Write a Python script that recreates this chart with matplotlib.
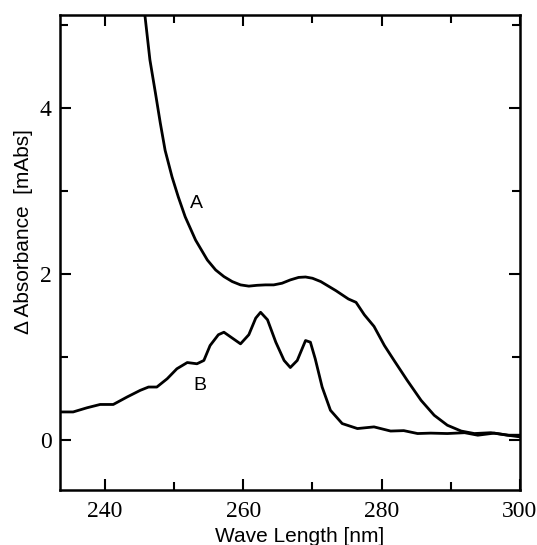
import numpy as np
import matplotlib.pyplot as plt
from matplotlib.ticker import MultipleLocator

# curve A
wl_a = [245.5, 245.8, 246.5, 247.3, 248.0, 248.7, 249.7, 250.6, 251.6, 253.1, 254.8,
        256.0, 257.2, 258.4, 259.6, 260.8, 262.0, 263.2, 264.4, 265.6, 266.8, 268.0,
        269.0, 270.0, 271.2, 272.4, 273.4, 274.3, 275.2, 276.3, 277.5, 278.9, 280.4,
        281.8, 283.7, 285.7, 287.6, 289.5, 291.5, 293.4, 295.8, 298.2, 300.0]
abs_a = [5.20, 5.10, 4.58, 4.18, 3.82, 3.49, 3.17, 2.93, 2.69, 2.41, 2.17,
         2.05, 1.97, 1.91, 1.87, 1.855, 1.865, 1.87, 1.87, 1.89, 1.93, 1.96,
         1.965, 1.95, 1.91, 1.85, 1.80, 1.75, 1.70, 1.66, 1.51, 1.37, 1.14,
         0.96, 0.72, 0.48, 0.30, 0.18, 0.11, 0.08, 0.09, 0.06, 0.04]

# curve B
wl_b = [233.5, 235.4, 237.4, 239.3, 241.2, 243.2, 245.1, 246.3, 247.5, 249.0, 250.4,
        251.9, 253.3, 254.3, 255.2, 256.4, 257.2, 258.4, 259.6, 260.8, 261.8, 262.5,
        263.5, 264.7, 265.9, 266.8, 267.8, 269.0, 269.7, 270.4, 271.4, 272.6, 274.3,
        276.5, 278.9, 281.3, 283.2, 285.2, 287.1, 289.5, 292.0, 293.9, 296.3, 298.3,
        300.0]
abs_b = [0.34, 0.34, 0.39, 0.43, 0.43, 0.52, 0.60, 0.64, 0.64, 0.74, 0.86,
         0.935, 0.92, 0.96, 1.14, 1.27, 1.30, 1.23, 1.16, 1.27, 1.47, 1.54,
         1.45, 1.18, 0.96, 0.875, 0.96, 1.20, 1.18, 0.98, 0.64, 0.36, 0.20,
         0.14, 0.16, 0.11, 0.115, 0.08, 0.085, 0.08, 0.09, 0.06, 0.085, 0.06,
         0.06]

labels = {"A": (253.3, 2.85), "B": (253.7, 0.66)}

fig = plt.figure(figsize=(5.37, 5.45), dpi=100)
ax = fig.add_axes([0.1117, 0.1009, 0.8566, 0.8716])

ax.plot(wl_a, abs_a, color='black', lw=2.0, solid_joinstyle='round')
ax.plot(wl_b, abs_b, color='black', lw=2.0, solid_joinstyle='round')

for name, (x, y) in labels.items():
    ax.text(x, y, name, fontsize=14, family='Liberation Sans', ha='center', va='center')

ax.set_xlim(233.5, 300)
ax.set_ylim(-0.6, 5.12)
ax.xaxis.set_major_locator(MultipleLocator(20))
ax.xaxis.set_minor_locator(MultipleLocator(10))
ax.yaxis.set_major_locator(MultipleLocator(2))
ax.yaxis.set_minor_locator(MultipleLocator(1))
ax.tick_params(which='both', direction='in', top=True, right=True, width=1.5)
ax.tick_params(which='major', length=8, labelsize=17)
ax.tick_params(which='minor', length=6)
ax.tick_params(axis='x', which='major', pad=8)
ax.tick_params(axis='y', which='major', pad=6)
for lab in ax.get_xticklabels() + ax.get_yticklabels():
    lab.set_family('Liberation Serif')
for sp in ax.spines.values():
    sp.set_linewidth(1.8)

ax.set_xlabel('Wave Length [nm]', fontsize=15, family='Liberation Sans', va='top')
ax.xaxis.set_label_coords(0.522, -0.078)
ax.set_ylabel('Δ Absorbance  [mAbs]', fontsize=15, family='Liberation Sans')
ax.yaxis.set_label_coords(-0.059, 0.544)

plt.savefig('out.png', dpi=100)
